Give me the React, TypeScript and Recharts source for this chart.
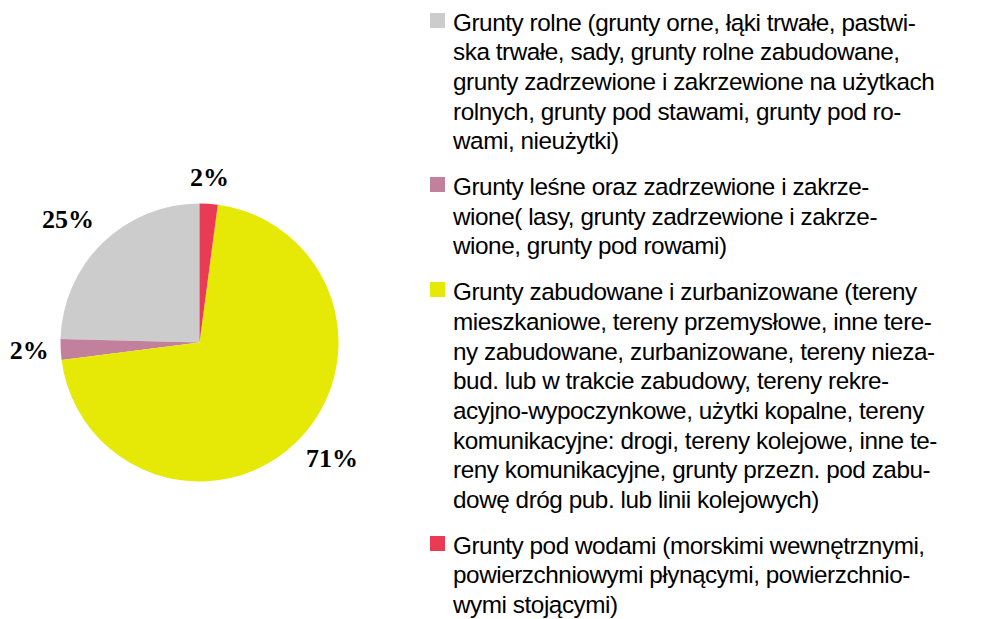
// Pie of land-use shares with a wrapped, hand-hyphenated legend on the right.
import React from 'react';
import { PieChart, Pie, Cell, Legend } from 'recharts';

// Legend text is broken into lines exactly as in the source (manual hyphenation)
const categoryLines: string[][] = [
  [
    'Grunty rolne (grunty orne, łąki trwałe, pastwi-',
    'ska trwałe, sady, grunty rolne zabudowane,',
    'grunty zadrzewione i zakrzewione na użytkach',
    'rolnych, grunty pod stawami, grunty pod ro-',
    'wami, nieużytki)',
  ],
  [
    'Grunty leśne oraz zadrzewione i zakrze-',
    'wione( lasy, grunty zadrzewione i zakrze-',
    'wione, grunty pod rowami)',
  ],
  [
    'Grunty zabudowane i zurbanizowane (tereny',
    'mieszkaniowe, tereny przemysłowe, inne tere-',
    'ny zabudowane, zurbanizowane, tereny nieza-',
    'bud. lub w trakcie zabudowy, tereny rekre-',
    'acyjno-wypoczynkowe, użytki kopalne, tereny',
    'komunikacyjne: drogi, tereny kolejowe, inne te-',
    'reny komunikacyjne, grunty przezn. pod zabu-',
    'dowę dróg pub. lub linii kolejowych)',
  ],
  [
    'Grunty pod wodami (morskimi wewnętrznymi,',
    'powierzchniowymi płynącymi, powierzchnio-',
    'wymi stojącymi)',
  ],
];

const shares = [24.6, 2.4, 70.9, 2.1];
const colors = ['#cccccc', '#c2809c', '#e6e805', '#ea3b54'];

const data = categoryLines.map((lines, i) => ({
  name: lines.join(' '),
  value: shares[i],
}));

const RADIAN = Math.PI / 180;

// outside labels: anchor side/baseline picked from the slice's mid angle
const renderLabel = (props: any) => {
  const { cx, cy, midAngle, outerRadius, percent } = props;
  const r = outerRadius + 12;
  const cos = Math.cos(-midAngle * RADIAN);
  const sin = -Math.sin(-midAngle * RADIAN); // positive = upper half
  const x = cx + r * cos;
  const y = cy - r * sin;
  const cap = 17.5;
  let anchor: 'start' | 'end' | 'middle' = cos >= 0 ? 'start' : 'end';
  if (Math.abs(cos) < 0.3) anchor = 'middle';
  let by = y + cap / 2;
  if (sin > 0.3) by = y - 6;
  else if (sin < -0.3) by = y + cap;
  return (
    <text x={x} y={by} textAnchor={anchor} fill="#000"
      style={{ fontFamily: '"Liberation Serif", serif', fontWeight: 700, fontSize: 26 }}>
      {`${Math.round(percent * 100)}%`}
    </text>
  );
};

const renderLegend = () => (
  <div style={{ fontFamily: '"Liberation Sans", Arial, sans-serif', fontSize: 24.3, letterSpacing: -0.45, lineHeight: '29.7px', color: '#000' }}>
    {categoryLines.map((lines, i) => (
      <div key={i} style={{ display: 'flex', marginBottom: 16 }}>
        <span style={{ width: 15, height: 15, background: colors[i], marginTop: 5, marginRight: 8, flex: '0 0 auto' }} />
        <div>
          {lines.map((l, j) => (
            <div key={j} style={{ whiteSpace: 'nowrap' }}>{l}</div>
          ))}
        </div>
      </div>
    ))}
  </div>
);

export default function App() {
  return (
    <div style={{ width: 999, height: 619, background: '#fff', position: 'relative' }}>
      <style>{'body{margin:0}'}</style>
      <PieChart width={999} height={619} margin={{ top: 0, right: 0, bottom: 0, left: 0 }}>
        <Pie
          data={data}
          dataKey="value"
          nameKey="name"
          cx={199.5}
          cy={342.5}
          outerRadius={139}
          startAngle={90}
          endAngle={450}
          stroke="none"
          label={renderLabel}
          labelLine={false}
          isAnimationActive={false}
        >
          {data.map((d, i) => (
            <Cell key={d.name} fill={colors[i]} />
          ))}
        </Pie>
        <Legend content={renderLegend} wrapperStyle={{ left: 430, top: 7.5, width: 560 }} />
      </PieChart>
    </div>
  );
}
